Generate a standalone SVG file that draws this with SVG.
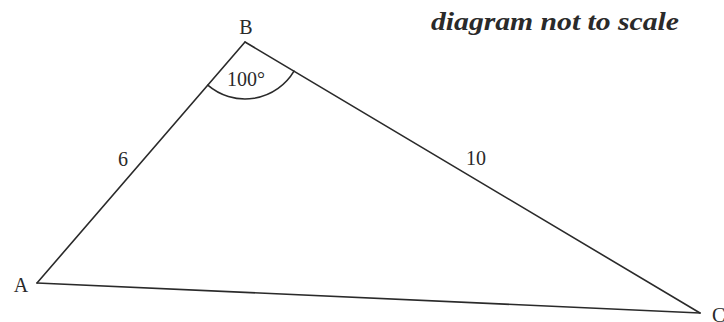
<svg xmlns="http://www.w3.org/2000/svg" width="724" height="322" viewBox="0 0 724 322">
<style>
.e{stroke:#2a2a2a;stroke-width:1.6;fill:none;stroke-linecap:round}
.t{font-family:"Liberation Serif",serif;font-size:20px;fill:#2a2a2a}
.n{font-family:"Liberation Serif",serif;font-size:25px;font-weight:bold;font-style:italic;fill:#2a2a2a}
</style>
<rect width="724" height="322" fill="#fff"/>
<g id="connectors">
<line class="e" x1="245" y1="42" x2="37" y2="283"/>
<line class="e" x1="245" y1="42" x2="700" y2="313"/>
<line class="e" x1="37" y1="283" x2="700" y2="313"/>
<path class="e" d="M207.8,85.2 A57,57 0 0 0 294,71.2"/>
</g>
<g id="A"><text class="t" x="21" y="292" text-anchor="middle">A</text></g>
<g id="B"><text class="t" x="246" y="34" text-anchor="middle">B</text></g>
<g id="C"><text class="t" x="712" y="322">C</text></g>
<g id="angle"><text class="t" x="246" y="86" text-anchor="middle">100°</text></g>
<g id="labels">
<text class="t" x="123" y="166" text-anchor="middle">6</text>
<text class="t" x="476" y="165" text-anchor="middle">10</text>
<text class="n" x="431" y="30" textLength="248" lengthAdjust="spacingAndGlyphs">diagram not to scale</text>
</g>
</svg>
